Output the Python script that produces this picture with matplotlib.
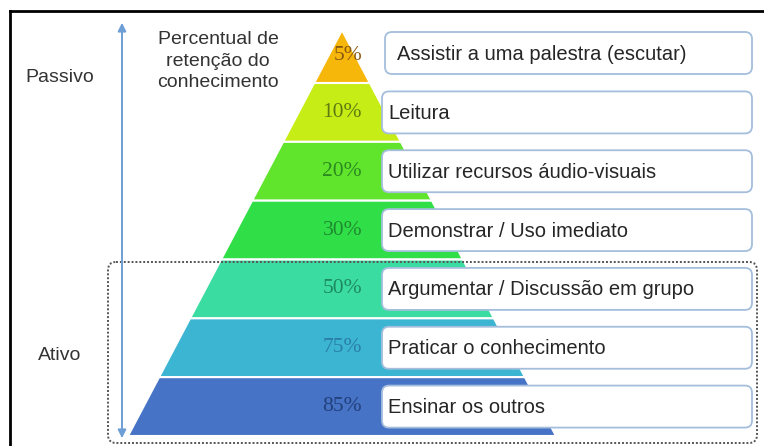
import numpy as np
import matplotlib.pyplot as plt
from matplotlib.patches import Polygon, FancyBboxPatch

# pyramid data, top to bottom
percents = ["5%", "10%", "20%", "30%", "50%", "75%", "85%"]
activities = ["Assistir a uma palestra (escutar)", "Leitura",
              "Utilizar recursos áudio-visuais", "Demonstrar / Uso imediato",
              "Argumentar / Discussão em grupo", "Praticar o conhecimento",
              "Ensinar os outros"]
fill_colors = ["#F6B60A", "#C6EE16", "#60E52C", "#30DE48",
               "#3ADCA2", "#3CB5D2", "#4673C6"]
text_colors = ["#8A5A10", "#5E7A10", "#2A8A20", "#1E8A30",
               "#1E8A60", "#2A7FA8", "#22407A"]

W, H = 764, 446
fig = plt.figure(figsize=(W / 100, H / 100), dpi=100)
ax = fig.add_axes([0, 0, 1, 1])
ax.set_xlim(0, W)
ax.set_ylim(H, 0)
ax.axis("off")

# outer frame (only top and left visible)
ax.plot([10, W], [11, 11], color="black", lw=2)
ax.plot([10, 10], [11, H], color="black", lw=2)

# pyramid geometry
apex_x, apex_y = 342, 30
base_y, half_w = 436, 214
edges = np.concatenate([[apex_y], np.linspace(83, base_y, len(percents))])


def half_width(y):
    return half_w * (y - apex_y) / (base_y - apex_y)


for i in range(len(percents)):
    y0, y1 = edges[i], edges[i + 1]
    w0, w1 = half_width(y0), half_width(y1)
    pts = [(apex_x - w0, y0), (apex_x + w0, y0),
           (apex_x + w1, y1), (apex_x - w1, y1)]
    ax.add_patch(Polygon(pts, closed=True, facecolor=fill_colors[i],
                         edgecolor="white", lw=1.5, zorder=2))
    yc = (y0 + y1) / 2
    if i == 0:
        yc = 55
    ax.text(362, yc, percents[i], ha="right", va="center",
            family="Liberation Serif", fontsize=15.5, color=text_colors[i],
            zorder=3)

    # label boxes
    bh = 42
    bx = 385 if i == 0 else 382
    by = (53 if i == 0 else (y0 + y1) / 2) - bh / 2
    ax.add_patch(FancyBboxPatch((bx, by), 752 - bx, bh,
                                boxstyle="round,pad=0,rounding_size=7",
                                facecolor="white", edgecolor="#A4BEDC",
                                lw=1.3, zorder=4))
    ax.text(bx + 12 if i == 0 else bx + 6, by + bh / 2 + 1, activities[i],
            ha="left", va="center", family="Liberation Sans",
            fontsize=14.5, color="#262626", zorder=5)

# active region dotted frame
ax.add_patch(FancyBboxPatch((108, 262), 649, 181,
                            boxstyle="round,pad=0,rounding_size=8",
                            facecolor="none", edgecolor="#555555",
                            lw=1.4, linestyle=(0, (1, 1)), zorder=6))

# passive/active arrow
ax.annotate("", xy=(122, 20), xytext=(122, 441),
            arrowprops=dict(arrowstyle="<|-|>", color="#6E9ED6",
                            lw=1.4, mutation_scale=12), zorder=7)

ax.text(60, 77, "Passivo", ha="center", va="center",
        family="Liberation Sans", fontsize=14, color="#333333")
ax.text(60, 355, "Ativo", ha="center", va="center",
        family="Liberation Sans", fontsize=14, color="#333333")
ax.text(218, 61, "Percentual de\nretenção do\nconhecimento", ha="center",
        va="center", family="Liberation Sans", fontsize=14,
        color="#333333", linespacing=1.35)

fig.savefig("out.png", dpi=100)
